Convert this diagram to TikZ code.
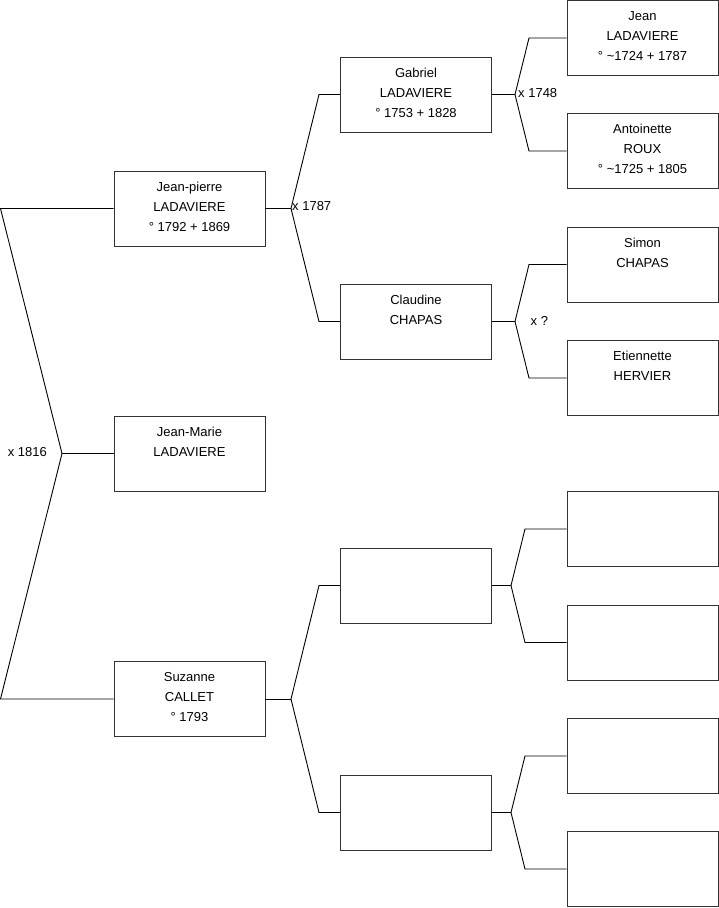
\documentclass[tikz,border=0pt]{standalone}
\usepackage{fontspec}
\setmainfont{Liberation Sans}
\newcommand\pline[1]{\rule[-7.5pt]{0pt}{20pt}#1}
\begin{document}
\begin{tikzpicture}[x=1pt,y=-1pt,
  person/.style={draw=black!80,line width=0.9pt,minimum width=151pt,minimum height=75pt,
    inner sep=0pt,align=center,font=\fontsize{13}{20}\selectfont},
  link/.style={draw=black,line width=0.9pt},
  marr/.style={font=\fontsize{13}{15}\selectfont,inner sep=0pt}]
\useasboundingbox (0,0) rectangle (719,908);
% column 1
\node[person] (JP) at (189.5,208.5) {\pline{Jean-pierre}\\\pline{LADAVIERE}\\\pline{° 1792 + 1869}};
\node[person] (JM) at (189.5,453.5) {\pline{Jean-Marie}\\\pline{LADAVIERE}\\\pline{}};
\node[person] (SZ) at (189.5,699) {\pline{Suzanne}\\\pline{CALLET}\\\pline{° 1793}};
% column 2
\node[person] (GB) at (416,94.5) {\pline{Gabriel}\\\pline{LADAVIERE}\\\pline{° 1753 + 1828}};
\node[person] (CL) at (416,321.5) {\pline{Claudine}\\\pline{CHAPAS}\\\pline{}};
\node[person] (E1) at (416,585.5) {};
\node[person] (E2) at (416,812.5) {};
% column 3
\node[person] (JN) at (642.5,38) {\pline{Jean}\\\pline{LADAVIERE}\\\pline{° \textasciitilde1724 + 1787}};
\node[person] (AR) at (642.5,151) {\pline{Antoinette}\\\pline{ROUX}\\\pline{° \textasciitilde1725 + 1805}};
\node[person] (SC) at (642.5,264.5) {\pline{Simon}\\\pline{CHAPAS}\\\pline{}};
\node[person] (EH) at (642.5,378) {\pline{Etiennette}\\\pline{HERVIER}\\\pline{}};
\node[person] (F1) at (642.5,529) {};
\node[person] (F2) at (642.5,642.5) {};
\node[person] (F3) at (642.5,756) {};
\node[person] (F4) at (642.5,869) {};
% root bracket
\coordinate (r0) at (62,453.5);
\coordinate (r1) at (0.5,208.5);
\coordinate (r2) at (0.5,699);
\draw[link] (JP.west) -- (r1) -- (r0) -- (r2) -- (SZ.west);
\draw[link] (r0) -- (JM.west);
\node[marr,anchor=east] (m0) at (47,452) {x 1816};
% Jean-pierre parents
\coordinate (a0) at (291,208.5);
\coordinate (a1) at (319,94.5);
\coordinate (a2) at (319,321.5);
\draw[link] (JP.east) -- (a0);
\draw[link] (GB.west) -- (a1) -- (a0) -- (a2) -- (CL.west);
\node[marr,anchor=west] (m1) at (292,206.5) {x 1787};
% Gabriel parents
\coordinate (b0) at (515,94.5);
\coordinate (b1) at (529,38);
\coordinate (b2) at (529,151);
\draw[link] (GB.east) -- (b0);
\draw[link] (JN.west) -- (b1) -- (b0) -- (b2) -- (AR.west);
\node[marr,anchor=west] (m2) at (518,93) {x 1748};
% Claudine parents
\coordinate (c0) at (515,321.5);
\coordinate (c1) at (529,264.5);
\coordinate (c2) at (529,378);
\draw[link] (CL.east) -- (c0);
\draw[link] (SC.west) -- (c1) -- (c0) -- (c2) -- (EH.west);
\node[marr,anchor=west] (m3) at (530.5,320.5) {x ?};
% Suzanne parents
\coordinate (d0) at (291,699);
\coordinate (d1) at (319,585.5);
\coordinate (d2) at (319,812.5);
\draw[link] (SZ.east) -- (d0);
\draw[link] (E1.west) -- (d1) -- (d0) -- (d2) -- (E2.west);
% E1 parents
\coordinate (e0) at (511,585.5);
\coordinate (e1) at (525,529);
\coordinate (e2) at (525,642.5);
\draw[link] (E1.east) -- (e0);
\draw[link] (F1.west) -- (e1) -- (e0) -- (e2) -- (F2.west);
% E2 parents
\coordinate (f0) at (511,812.5);
\coordinate (f1) at (525,756);
\coordinate (f2) at (525,869);
\draw[link] (E2.east) -- (f0);
\draw[link] (F3.west) -- (f1) -- (f0) -- (f2) -- (F4.west);
\end{tikzpicture}
\end{document}
